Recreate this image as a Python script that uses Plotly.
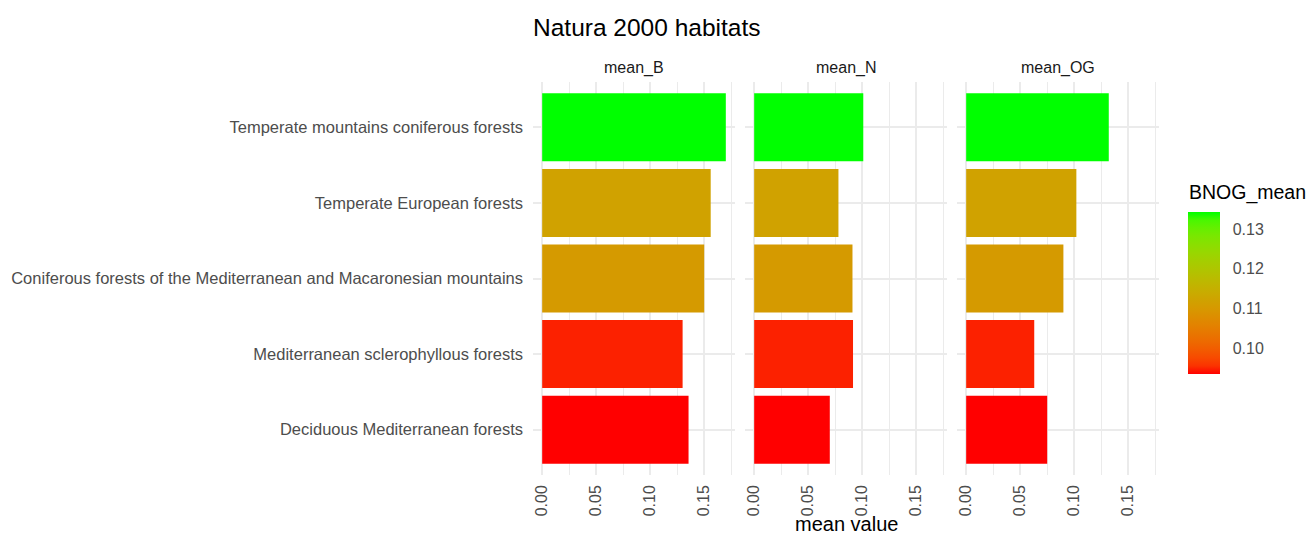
import numpy as np
import plotly.graph_objects as go

# ---- data ----
habitats = [
    "Temperate mountains coniferous forests",
    "Temperate European forests",
    "Coniferous forests of the Mediterranean and Macaronesian mountains",
    "Mediterranean sclerophyllous forests",
    "Deciduous Mediterranean forests",
]
facets = ["mean_B", "mean_N", "mean_OG"]
mean_B = [0.170, 0.156, 0.150, 0.130, 0.1355]
mean_N = [0.101, 0.078, 0.091, 0.0915, 0.070]
mean_OG = [0.132, 0.102, 0.090, 0.063, 0.075]
BNOG_mean = list(np.mean([mean_B, mean_N, mean_OG], axis=0))
x_ticks = [0.00, 0.05, 0.10, 0.15]
cbar_ticks = [0.10, 0.11, 0.12, 0.13]

# ---- Lab colour interpolation (red -> green, as ggplot gradient) ----
def srgb_to_lin(c):
    c = c / 255.0
    return np.where(c <= 0.04045, c / 12.92, ((c + 0.055) / 1.055) ** 2.4)

def lin_to_srgb(c):
    c = np.clip(c, 0, 1)
    v = np.where(c <= 0.0031308, 12.92 * c, 1.055 * c ** (1 / 2.4) - 0.055)
    return np.clip(np.round(v * 255), 0, 255)

M = np.array([[0.4124, 0.3576, 0.1805], [0.2126, 0.7152, 0.0722], [0.0193, 0.1192, 0.9505]])
Minv = np.linalg.inv(M)
WP = np.array([0.95047, 1.0, 1.08883])

def f(t):
    d = 6 / 29
    return np.where(t > d ** 3, np.cbrt(t), t / (3 * d * d) + 4 / 29)

def finv(t):
    d = 6 / 29
    return np.where(t > d, t ** 3, 3 * d * d * (t - 4 / 29))

def rgb_to_lab(rgb):
    xyz = M @ srgb_to_lin(np.array(rgb, float)) / WP
    fx, fy, fz = f(xyz)
    return np.array([116 * fy - 16, 500 * (fx - fy), 200 * (fy - fz)])

def lab_to_rgb(lab):
    L, a, b = lab
    fy = (L + 16) / 116
    fx = fy + a / 500
    fz = fy - b / 200
    xyz = np.array([finv(fx), finv(fy), finv(fz)]) * WP
    return lin_to_srgb(Minv @ xyz)

lab_lo = rgb_to_lab([255, 0, 0])
lab_hi = rgb_to_lab([0, 255, 0])
colorscale = []
for t in np.linspace(0, 1, 21):
    r, g, b = lab_to_rgb(lab_lo + (lab_hi - lab_lo) * t)
    colorscale.append([float(t), f"rgb({int(r)},{int(g)},{int(b)})"])

# ---- figure ----
W, H = 1311, 537
L_, R_, T_, B_ = 533, 1159, 82, 475
pw = R_ - L_
ph = B_ - T_
panel_w = 202
gap = 10
FONT = "Liberation Sans, Arial, sans-serif"
GRID = "#EBEBEB"

fig = go.Figure()
series = [mean_B, mean_N, mean_OG]
for i, vals in enumerate(series):
    xa = "x" if i == 0 else f"x{i+1}"
    fig.add_trace(go.Bar(
        x=vals, y=habitats, orientation="h", width=0.9,
        marker=dict(color=BNOG_mean, coloraxis="coloraxis", line=dict(width=0)),
        xaxis=xa, yaxis="y", showlegend=False,
        hovertemplate="%{y}<br>%{x:.3f}<extra>" + facets[i] + "</extra>",
    ))

layout_axes = {}
for i in range(3):
    d0 = (i * (panel_w + gap)) / pw
    d1 = (i * (panel_w + gap) + panel_w) / pw
    key = "xaxis" if i == 0 else f"xaxis{i+1}"
    layout_axes[key] = dict(
        domain=[d0, min(d1, 1)], range=[-0.0085, 0.1785],
        tickvals=x_ticks, ticktext=[f"{v:.2f}" for v in x_ticks],
        tickangle=-90, ticks="", showline=False, zeroline=False,
        showgrid=True, gridcolor=GRID, gridwidth=1.6,
        minor=dict(dtick=0.025, tick0=0, showgrid=True, gridcolor=GRID, gridwidth=0.8),
        tickfont=dict(family=FONT, size=16, color="#4D4D4D"),
        ticklabelstandoff=6,
        anchor="y", fixedrange=True,
    )

cb_top, cb_bot = 212, 374
fig.update_layout(
    width=W, height=H,
    margin=dict(l=L_, r=W - R_, t=T_, b=H - B_, pad=0),
    paper_bgcolor="white", plot_bgcolor="white",
    font=dict(family=FONT, color="#1A1A1A"),
    title=dict(text="Natura 2000 habitats", x=L_ / W, xanchor="left", xref="container",
               y=1 - 27 / H, yanchor="middle", font=dict(size=24.5, color="black", family=FONT)),
    yaxis=dict(
        categoryorder="array", categoryarray=habitats, range=[4.6, -0.6],
        showgrid=True, gridcolor=GRID, gridwidth=1.6, ticks="", showline=False,
        zeroline=False, tickfont=dict(family=FONT, size=16.5, color="#4D4D4D"),
        ticklabelstandoff=9, fixedrange=True,
    ),
    coloraxis=dict(
        colorscale=colorscale, cmin=min(BNOG_mean), cmax=max(BNOG_mean),
        colorbar=dict(
            x=(1188 - L_) / pw, xanchor="left", xpad=0,
            y=1 - ((cb_top + cb_bot) / 2 - T_) / ph, yanchor="middle", ypad=0,
            thickness=32, thicknessmode="pixels", len=cb_bot - cb_top, lenmode="pixels",
            outlinewidth=0, tickvals=cbar_ticks, ticktext=[f"{v:.2f}" for v in cbar_ticks],
            ticks="outside", ticklen=10, tickcolor="rgba(0,0,0,0)", tickwidth=1,
            tickfont=dict(size=16, family=FONT, color="#4D4D4D"),
        ),
    ),
    bargap=0.1,
    **layout_axes,
)

ann = []
for i, name in enumerate(facets):
    cx = (i * (panel_w + gap) + panel_w / 2) / pw
    ann.append(dict(text=name, x=cx, y=1 + (T_ - 68) / ph, xref="paper", yref="paper",
                    xanchor="center", yanchor="middle", showarrow=False,
                    font=dict(size=16, family=FONT, color="#1A1A1A")))
ann.append(dict(text="mean value", x=0.5, y=-(524 - B_) / ph, xref="paper", yref="paper",
                xanchor="center", yanchor="middle", showarrow=False,
                font=dict(size=20, family=FONT, color="black")))
ann.append(dict(text="BNOG_mean", x=(1187 - L_) / pw, y=1 - (192 - T_) / ph, xref="paper", yref="paper",
                xanchor="left", yanchor="middle", showarrow=False,
                font=dict(size=19.5, family=FONT, color="black")))
fig.update_layout(annotations=ann)

fig.write_html("out.html", config={"displayModeBar": False},
               post_script="document.body.style.margin='0px';")
